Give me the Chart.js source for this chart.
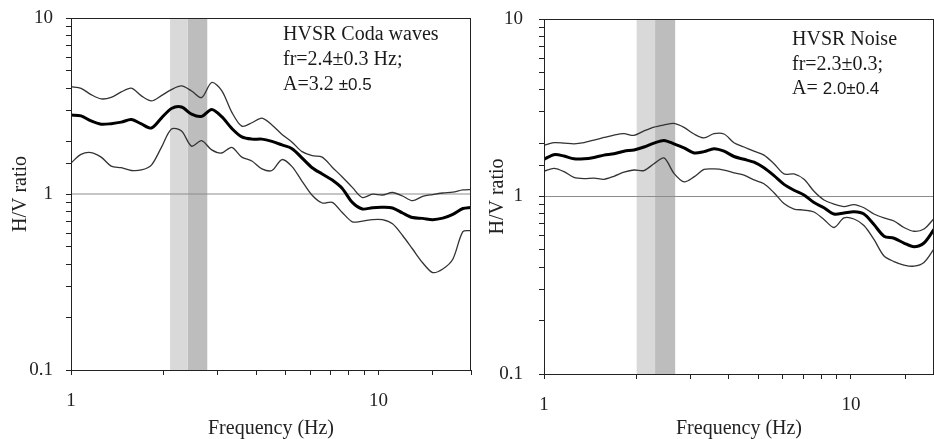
<!DOCTYPE html>
<html>
<head>
<meta charset="utf-8">
<script src="https://cdn.jsdelivr.net/npm/chart.js@4.4.1/dist/chart.umd.min.js"></script>
<style>
body { margin: 0; background: #fff; width: 934px; height: 439px; overflow: hidden; position: relative; }
#cajaCoda { position: absolute; left: 0; top: 0; width: 472px; height: 439px; }
#cajaRuido { position: absolute; left: 472px; top: 0; width: 462px; height: 439px; }
</style>
</head>
<body>
<div id="cajaCoda"><canvas id="graficoCoda" width="472" height="439"></canvas></div>
<div id="cajaRuido"><canvas id="graficoRuido" width="462" height="439"></canvas></div>
<script>

// left panel: HVSR coda waves
const freqCoda = [1.00, 1.078, 1.162, 1.253, 1.351, 1.457, 1.571, 1.694, 1.826, 1.968, 2.122, 2.288, 2.467, 2.660, 2.868, 3.092, 3.333, 3.594, 3.875, 4.178, 4.504, 4.856, 5.236, 5.645, 6.086, 6.561, 7.074, 7.627, 8.222, 8.865, 9.559, 10.30, 11.11, 11.98, 12.91, 13.92, 15.01, 16.19, 17.45, 18.82, 20.0];
const superiorCoda = [4.07, 3.98, 3.67, 3.47, 3.54, 3.80, 3.99, 3.61, 3.38, 3.62, 3.92, 4.11, 3.85, 3.53, 4.30, 3.87, 2.92, 2.43, 2.54, 2.70, 2.47, 2.18, 1.97, 1.74, 1.65, 1.62, 1.42, 1.25, 1.09, 0.955, 0.997, 0.987, 1.02, 0.974, 0.916, 0.970, 0.993, 1.013, 1.026, 1.054, 1.06];
const medioCoda = [2.81, 2.78, 2.60, 2.49, 2.51, 2.56, 2.65, 2.50, 2.37, 2.70, 3.06, 3.12, 2.84, 2.76, 3.02, 2.75, 2.36, 2.11, 2.05, 2.05, 1.99, 1.90, 1.81, 1.60, 1.41, 1.30, 1.20, 1.075, 0.896, 0.822, 0.836, 0.840, 0.833, 0.780, 0.735, 0.727, 0.715, 0.729, 0.766, 0.827, 0.839];
const inferiorCoda = [1.50, 1.68, 1.72, 1.62, 1.44, 1.41, 1.36, 1.37, 1.46, 1.84, 2.34, 2.28, 1.87, 2.01, 1.78, 1.71, 1.84, 1.62, 1.54, 1.39, 1.36, 1.57, 1.43, 1.18, 0.983, 0.889, 0.896, 0.785, 0.695, 0.702, 0.716, 0.715, 0.677, 0.581, 0.487, 0.407, 0.358, 0.375, 0.426, 0.611, 0.619];
const bandaClaraCoda = [2.1, 2.4];
const bandaOscuraCoda = [2.4, 2.78];
const rangoCoda = [1, 20];

// right panel: HVSR noise
const freqRuido = [1.000, 1.078, 1.162, 1.252, 1.350, 1.455, 1.568, 1.690, 1.822, 1.964, 2.117, 2.282, 2.460, 2.651, 2.858, 3.081, 3.320, 3.579, 3.858, 4.158, 4.482, 4.831, 5.207, 5.613, 6.050, 6.521, 7.029, 7.577, 8.167, 8.803, 9.489, 10.23, 11.02, 11.88, 12.81, 13.81, 14.88, 16.04, 17.29, 18.64];
const superiorRuido = [1.94, 2.01, 2.00, 1.98, 2.01, 2.08, 2.15, 2.22, 2.26, 2.21, 2.34, 2.46, 2.53, 2.58, 2.45, 2.25, 2.14, 2.26, 2.25, 2.01, 1.90, 1.80, 1.71, 1.53, 1.34, 1.34, 1.25, 1.07, 0.956, 0.907, 0.878, 0.901, 0.864, 0.797, 0.757, 0.728, 0.669, 0.637, 0.656, 0.752];
const medioRuido = [1.62, 1.72, 1.69, 1.63, 1.63, 1.66, 1.71, 1.74, 1.80, 1.83, 1.90, 2.00, 2.07, 1.98, 1.88, 1.76, 1.79, 1.86, 1.80, 1.68, 1.62, 1.56, 1.45, 1.31, 1.17, 1.085, 1.02, 0.925, 0.864, 0.797, 0.807, 0.820, 0.797, 0.695, 0.598, 0.582, 0.547, 0.521, 0.547, 0.652];
const inferiorRuido = [1.39, 1.44, 1.38, 1.28, 1.26, 1.27, 1.25, 1.30, 1.37, 1.41, 1.40, 1.53, 1.65, 1.35, 1.21, 1.29, 1.42, 1.43, 1.41, 1.36, 1.32, 1.24, 1.18, 1.05, 0.913, 0.850, 0.839, 0.818, 0.742, 0.669, 0.757, 0.747, 0.686, 0.573, 0.462, 0.430, 0.411, 0.405, 0.425, 0.506];
const bandaClaraRuido = [2.0, 2.3];
const bandaOscuraRuido = [2.3, 2.68];
const rangoRuido = [1, 18.64];

const ticksY = [0.1, 1, 10];
const ticksX = [1, 10];

const serif = '"Liberation Serif", "Times New Roman", serif';
Chart.defaults.font.family = serif;
Chart.defaults.color = "#222";

function puntos(fs, vs) {
    return fs.map((f, i) => ({ x: f, y: vs[i] }));
}

function esDecada(lista) {
    return function (v) {
        const hit = lista.find(t => Math.abs(Math.log10(v) - Math.log10(t)) < 1e-6);
        return hit !== undefined ? String(hit) : "";
    };
}

// box around the plot area
const marco = {
    id: "marco",
    afterDatasetsDraw(chart) {
        const a = chart.chartArea;
        const ctx = chart.ctx;
        ctx.save();
        ctx.strokeStyle = "#222";
        ctx.lineWidth = 1;
        ctx.strokeRect(Math.round(a.left) + 0.5, Math.round(a.top) + 0.5,
            Math.round(a.right - a.left) - 1, Math.round(a.bottom - a.top));
        ctx.restore();
    }
};

// text block in the upper right corner
const notas = {
    id: "notas",
    afterDraw(chart, args, opts) {
        const ctx = chart.ctx;
        ctx.save();
        ctx.fillStyle = "#1a1a1a";
        ctx.textBaseline = "middle";
        opts.lineas.forEach((linea, i) => {
            let x = opts.x;
            const y = opts.y + i * opts.paso;
            linea.forEach(seg => {
                ctx.font = seg.sans ? '17px "Liberation Sans", Arial, sans-serif' : "20px " + serif;
                ctx.fillText(seg.t, x, y);
                x += ctx.measureText(seg.t).width;
            });
        });
        ctx.restore();
    }
};

function crearGrafico(id, cfg) {

    const datasets = [
        { data: puntos(cfg.freq, cfg.medio), borderColor: "#000", borderWidth: 3, order: 0 },
        { data: puntos(cfg.freq, cfg.superior), borderColor: "#333", borderWidth: 1.3, order: 1 },
        { data: puntos(cfg.freq, cfg.inferior), borderColor: "#333", borderWidth: 1.3, order: 1 },
        { data: puntos(cfg.rango, [1, 1]), borderColor: "#8c8c8c", borderWidth: 1, tension: 0, order: 2 },
        { data: puntos(cfg.bandaClara, [10, 10]), borderWidth: 0, backgroundColor: "#d9d9d9", fill: "start", tension: 0, order: 3 },
        { data: puntos(cfg.bandaOscura, [10, 10]), borderWidth: 0, backgroundColor: "#bdbdbd", fill: "start", tension: 0, order: 3 }
    ];

    return new Chart(document.getElementById(id), {
        type: "line",
        data: { datasets: datasets },
        options: {
            responsive: false,
            animation: false,
            events: [],
            layout: { padding: cfg.padding },
            elements: {
                point: { radius: 0 },
                line: { tension: 0.3, borderCapStyle: "round" }
            },
            plugins: {
                legend: { display: false },
                tooltip: { enabled: false },
                notas: cfg.notas
            },
            scales: {
                x: {
                    type: "logarithmic",
                    min: cfg.rango[0],
                    max: cfg.rango[1],
                    afterFit(s) {
                        s.height = cfg.altoX;
                        s.paddingLeft = 0;
                        s.paddingRight = 0;
                    },
                    border: { display: false },
                    grid: { drawOnChartArea: false, tickLength: 5, color: "#222" },
                    ticks: {
                        autoSkip: false,
                        maxRotation: 0,
                        padding: 15,
                        font: { size: 19 },
                        callback: esDecada(ticksX)
                    },
                    title: {
                        display: true,
                        text: "Frequency (Hz)",
                        font: { size: 20, lineHeight: 1 },
                        padding: { top: 0, bottom: 0 }
                    }
                },
                y: {
                    type: "logarithmic",
                    min: 0.1,
                    max: 10,
                    afterFit(s) {
                        s.width = cfg.anchoY;
                        s.paddingTop = 0;
                        s.paddingBottom = 0;
                    },
                    border: { display: false },
                    grid: { drawOnChartArea: false, tickLength: 5, color: "#222" },
                    ticks: {
                        autoSkip: false,
                        padding: cfg.padTickY,
                        font: { size: 19 },
                        callback: esDecada(ticksY)
                    },
                    title: {
                        display: true,
                        text: "H/V ratio",
                        font: { size: 20, lineHeight: 1 },
                        padding: { top: cfg.padTituloY, bottom: 0 }
                    }
                }
            }
        },
        plugins: [marco, notas]
    });
}

crearGrafico("graficoCoda", {
    freq: freqCoda,
    superior: superiorCoda,
    medio: medioCoda,
    inferior: inferiorCoda,
    bandaClara: bandaClaraCoda,
    bandaOscura: bandaOscuraCoda,
    rango: rangoCoda,
    padding: { top: 18, right: 1, left: 0, bottom: 0 },
    altoX: 69,
    anchoY: 71,
    padTickY: 13,
    padTituloY: 11,
    notas: {
        x: 283, y: 35, paso: 25,
        lineas: [
            [{ t: "HVSR Coda waves" }],
            [{ t: "fr=2.4±0.3 Hz;" }],
            [{ t: "A=3.2 " }, { t: "±0.5", sans: true }]
        ]
    }
});

crearGrafico("graficoRuido", {
    freq: freqRuido,
    superior: superiorRuido,
    medio: medioRuido,
    inferior: inferiorRuido,
    bandaClara: bandaClaraRuido,
    bandaOscura: bandaOscuraRuido,
    rango: rangoRuido,
    padding: { top: 19, right: 0, left: 0, bottom: 0 },
    altoX: 65,
    anchoY: 72,
    padTickY: 16,
    padTituloY: 16,
    notas: {
        x: 320, y: 40, paso: 24.5,
        lineas: [
            [{ t: "HVSR Noise" }],
            [{ t: "fr=2.3±0.3;" }],
            [{ t: "A= " }, { t: "2.0±0.4", sans: true }]
        ]
    }
});
</script>
</body>
</html>
